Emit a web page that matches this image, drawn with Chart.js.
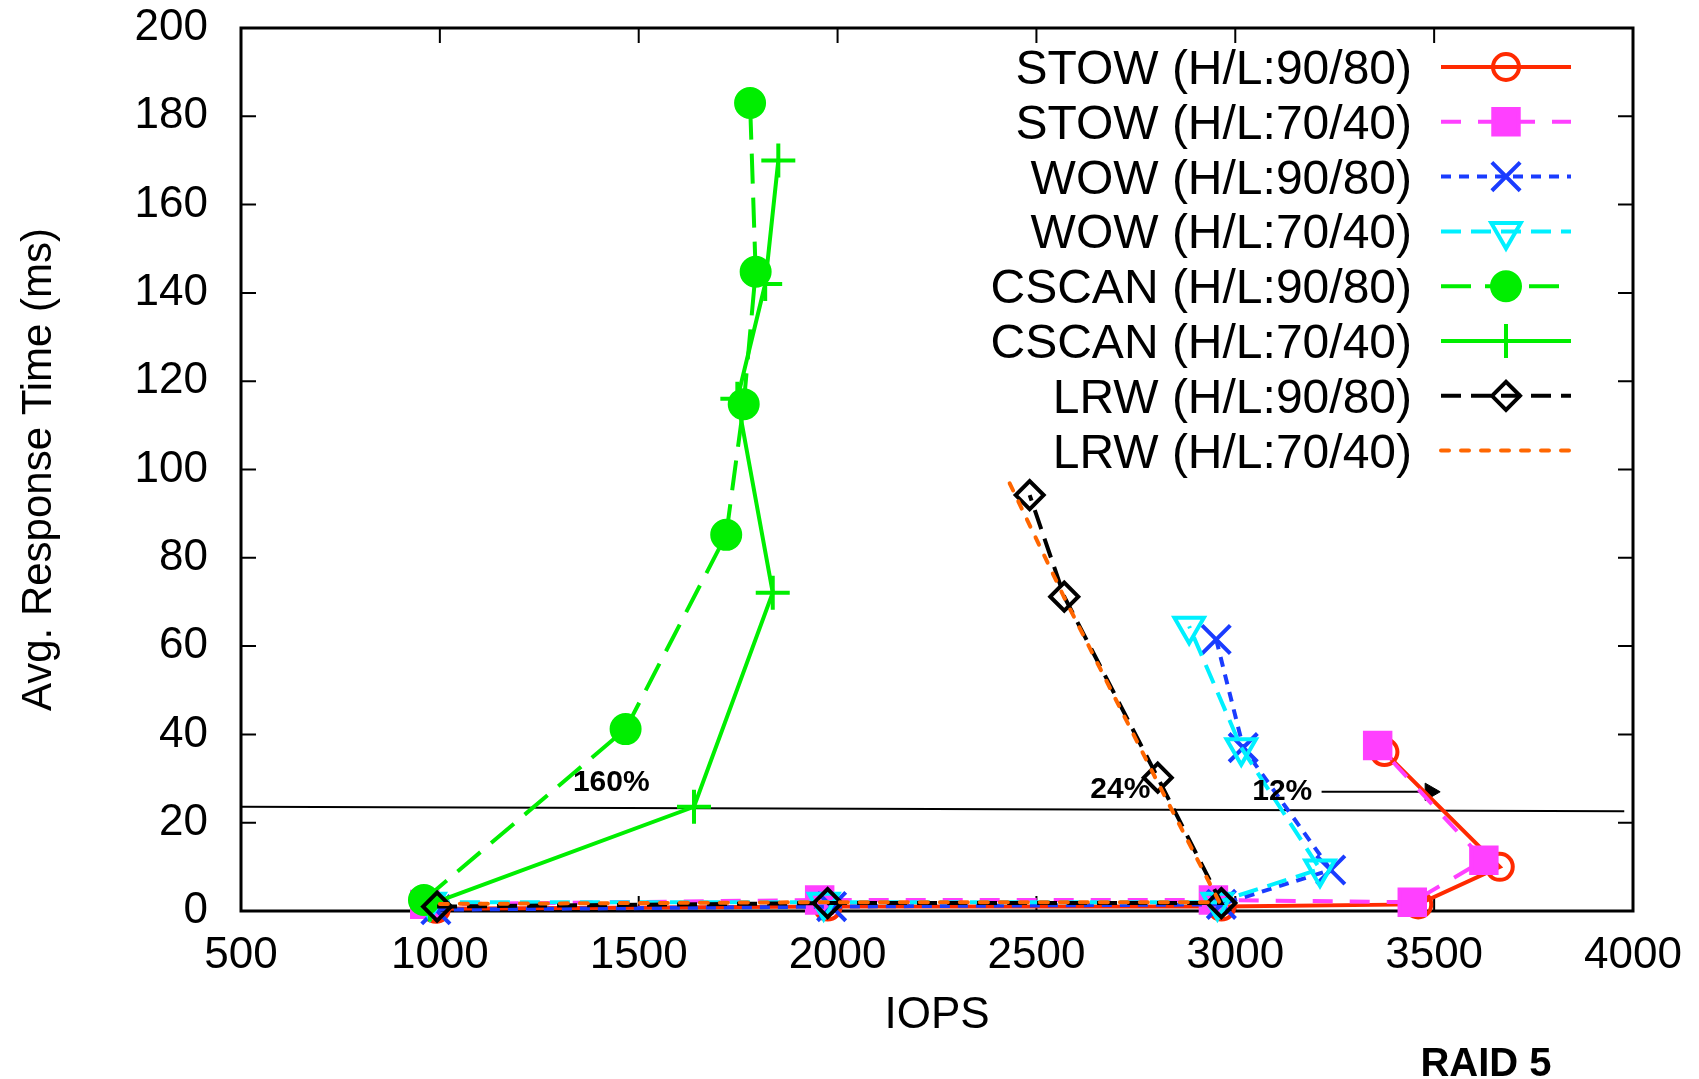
<!DOCTYPE html>
<html>
<head>
<meta charset="utf-8">
<title>RAID 5 - IOPS vs response time</title>
<script src="https://cdn.jsdelivr.net/npm/chart.js@4/dist/chart.umd.min.js"></script>
<style>
  html, body { margin: 0; padding: 0; background: #fff; }
  #wrap { width: 1699px; height: 1079px; }
</style>
</head>
<body>
<div id="wrap"><canvas id="raid5" width="1699" height="1079"></canvas></div>
<script>
const seriesNames = [
    'STOW (H/L:90/80)', 'STOW (H/L:70/40)',
    'WOW (H/L:90/80)', 'WOW (H/L:70/40)',
    'CSCAN (H/L:90/80)', 'CSCAN (H/L:70/40)',
    'LRW (H/L:90/80)', 'LRW (H/L:70/40)',
];

// IOPS (x) and avg response time in ms (y)
const stow9080X = [990, 1975, 2965, 3460, 3665, 3375];
const stow9080Y = [0.5, 1, 1, 1.5, 10, 36];
const stow7040X = [962, 1955, 2945, 3445, 3625, 3358];
const stow7040Y = [1.5, 2.5, 2.5, 2, 11.5, 37.5];
const wow9080X = [990, 1985, 2965, 3240, 3020, 2952];
const wow9080Y = [0.3, 1, 1.5, 9.3, 37, 61.5];
const wow7040X = [975, 1965, 2955, 3213, 3015, 2884];
const wow7040Y = [2, 2, 2, 9.5, 37, 64.5];
const cscan9080X = [960, 1467, 1720, 1764, 1794, 1780];
const cscan9080Y = [2.5, 41.2, 85.2, 114.8, 144.8, 183];
const cscan7040X = [975, 1639, 1837, 1748, 1818, 1851];
const cscan7040Y = [1.5, 23.6, 72.1, 116, 142, 170];
const lrw9080X = [993, 1975, 2965, 2805, 2570, 2483];
const lrw9080Y = [1, 1.8, 1.8, 30.2, 71.2, 94.2];
const lrw7040X = [1000, 1985, 2960, 2800, 2570, 2431];
const lrw7040Y = [1.6, 2, 2, 30, 71, 97.2];

// reference line and arrow
const thresholdX = [500, 3978];
const thresholdY = [23.6, 22.6];
const arrowX = [3217, 3490];
const arrowY = [27, 27];

const notes = ['160%', '24%', '12%'];
const noteX = [1431, 2711, 3118];
const noteY = [29, 27.4, 27];

const xTicks = [500, 1000, 1500, 2000, 2500, 3000, 3500, 4000];
const yTicks = [0, 20, 40, 60, 80, 100, 120, 140, 160, 180, 200];

const FONT = '"Liberation Sans", Arial, Helvetica, sans-serif';
Chart.defaults.font.family = FONT;
Chart.defaults.color = '#000';

function pts(xs, ys) {
    return xs.map((x, i) => ({ x: x, y: ys[i] }));
}

const clear = 'rgba(0,0,0,0)';

const datasets = [
    {
        label: seriesNames[0], data: pts(stow9080X, stow9080Y),
        borderColor: '#ff2a00', borderDash: [],
        pointStyle: 'circle', pointRadius: 13, pointBackgroundColor: clear,
    },
    {
        label: seriesNames[1], data: pts(stow7040X, stow7040Y),
        borderColor: '#ff40ff', borderDash: [20, 17],
        pointStyle: 'rect', pointRadius: 18, pointBackgroundColor: '#ff40ff',
    },
    {
        label: seriesNames[2], data: pts(wow9080X, wow9080Y),
        borderColor: '#1a3cff', borderDash: [10, 8],
        pointStyle: 'crossRot', pointRadius: 20, pointBackgroundColor: '#1a3cff',
    },
    {
        label: seriesNames[3], data: pts(wow7040X, wow7040Y),
        borderColor: '#00f0ff', borderDash: [20, 10],
        pointStyle: 'triangle', pointRotation: 180, pointRadius: 17, pointBackgroundColor: clear,
    },
    {
        label: seriesNames[4], data: pts(cscan9080X, cscan9080Y),
        borderColor: '#00ee00', borderDash: [30, 14],
        pointStyle: 'circle', pointRadius: 14, pointBackgroundColor: '#00ee00',
    },
    {
        label: seriesNames[5], data: pts(cscan7040X, cscan7040Y),
        borderColor: '#00ee00', borderDash: [],
        pointStyle: 'cross', pointRadius: 17, pointBackgroundColor: '#00ee00',
    },
    {
        label: seriesNames[6], data: pts(lrw9080X, lrw9080Y),
        borderColor: '#000000', borderDash: [20, 10],
        pointStyle: 'rectRot', pointRadius: 14, pointBackgroundColor: clear,
    },
    {
        label: seriesNames[7], data: pts(lrw7040X, lrw7040Y),
        borderColor: '#ff6600', borderDash: [8, 12], borderCapStyle: 'round',
        pointStyle: false, pointRadius: 0,
    },
];

datasets.forEach((ds, i) => {
    ds.showLine = true;
    ds.borderWidth = 4;
    ds.pointBorderColor = ds.borderColor;
    ds.pointBorderWidth = 4;
    ds.clip = false;
    ds.order = 10 - i;
});

datasets.push({
    label: 'threshold', data: pts(thresholdX, thresholdY),
    showLine: true, borderColor: '#000', borderWidth: 2, pointRadius: 0, order: 30,
});
datasets.push({
    label: 'arrow', data: pts(arrowX, arrowY),
    showLine: true, borderColor: '#000', borderWidth: 2, order: 30,
    pointStyle: 'triangle', pointRotation: 90, pointRadius: [0, 10],
    pointBackgroundColor: '#000', pointBorderColor: '#000', pointBorderWidth: 1,
});

const frame = {
    id: 'frame',
    beforeDatasetsDraw(chart) {
        const { ctx, chartArea: a, scales: { x, y } } = chart;
        ctx.save();
        ctx.strokeStyle = '#000';
        ctx.lineWidth = 3;
        ctx.strokeRect(a.left, a.top, a.right - a.left, a.bottom - a.top);
        ctx.lineWidth = 2;
        ctx.beginPath();
        xTicks.forEach(v => {
            const px = x.getPixelForValue(v);
            ctx.moveTo(px, a.bottom); ctx.lineTo(px, a.bottom - 15);
            ctx.moveTo(px, a.top); ctx.lineTo(px, a.top + 15);
        });
        yTicks.forEach(v => {
            const py = y.getPixelForValue(v);
            ctx.moveTo(a.left, py); ctx.lineTo(a.left + 15, py);
            ctx.moveTo(a.right, py); ctx.lineTo(a.right - 15, py);
        });
        ctx.stroke();
        ctx.restore();
    },
};

const extras = {
    id: 'extras',
    afterDraw(chart) {
        const { ctx, scales: { x, y } } = chart;
        ctx.save();

        // percentage notes
        ctx.fillStyle = '#000';
        ctx.font = 'bold 30px ' + FONT;
        ctx.textAlign = 'center';
        ctx.textBaseline = 'middle';
        notes.forEach((t, i) => {
            ctx.fillText(t, x.getPixelForValue(noteX[i]), y.getPixelForValue(noteY[i]));
        });

        // legend, text right aligned with the sample on the right
        chart.data.datasets.slice(0, seriesNames.length).forEach((ds, i) => {
            const cy = 67 + i * 54.8;
            ctx.save();
            ctx.font = '48px ' + FONT;
            ctx.fillStyle = '#000';
            ctx.textAlign = 'right';
            ctx.textBaseline = 'alphabetic';
            ctx.fillText(ds.label, 1412, cy + 17);
            ctx.strokeStyle = ds.borderColor;
            ctx.lineWidth = 4;
            ctx.lineCap = ds.borderCapStyle || 'butt';
            ctx.setLineDash(ds.borderDash || []);
            ctx.beginPath();
            ctx.moveTo(1441, cy);
            ctx.lineTo(1571, cy);
            ctx.stroke();
            if (ds.pointStyle) {
                ctx.setLineDash([]);
                ctx.fillStyle = ds.pointBackgroundColor;
                ctx.lineWidth = ds.pointBorderWidth;
                Chart.helpers.drawPoint(ctx, {
                    pointStyle: ds.pointStyle,
                    radius: ds.pointRadius,
                    rotation: ds.pointRotation || 0,
                    borderWidth: ds.pointBorderWidth,
                }, 1506, cy);
            }
            ctx.restore();
        });

        ctx.font = 'bold 40px ' + FONT;
        ctx.textAlign = 'center';
        ctx.textBaseline = 'alphabetic';
        ctx.fillText('RAID 5', 1486, 1076);
        ctx.restore();
    },
};

const config = {
    type: 'scatter',
    data: { datasets: datasets },
    options: {
        responsive: false,
        animation: false,
        events: [],
        layout: { padding: { top: 28, right: 66, left: 0, bottom: 0 } },
        plugins: {
            legend: { display: false },
            tooltip: { enabled: false },
        },
        scales: {
            x: {
                type: 'linear', min: 500, max: 4000,
                afterBuildTicks: s => { s.ticks = xTicks.map(v => ({ value: v })); },
                afterFit: s => { s.height = 168; s.paddingLeft = 0; s.paddingRight = 0; },
                grid: { display: false, drawTicks: false },
                border: { display: false },
                ticks: { font: { size: 44 }, padding: 18, maxRotation: 0, autoSkip: false, callback: v => String(v) },
                title: { display: true, text: 'IOPS', font: { size: 44 }, padding: { top: 0, bottom: 37 } },
            },
            y: {
                type: 'linear', min: 0, max: 200,
                afterBuildTicks: s => { s.ticks = yTicks.map(v => ({ value: v })); },
                afterFit: s => { s.width = 241; s.paddingTop = 0; s.paddingBottom = 0; },
                grid: { display: false, drawTicks: false },
                border: { display: false },
                ticks: { font: { size: 44 }, padding: 33, autoSkip: false, callback: v => String(v) },
                title: { display: true, text: 'Avg. Response Time (ms)', font: { size: 42 }, padding: { top: 14, bottom: 0 } },
            },
        },
    },
    plugins: [frame, extras],
};

const ctx = document.getElementById('raid5').getContext('2d');
const raidChart = new Chart(ctx, config);
</script>
</body>
</html>
